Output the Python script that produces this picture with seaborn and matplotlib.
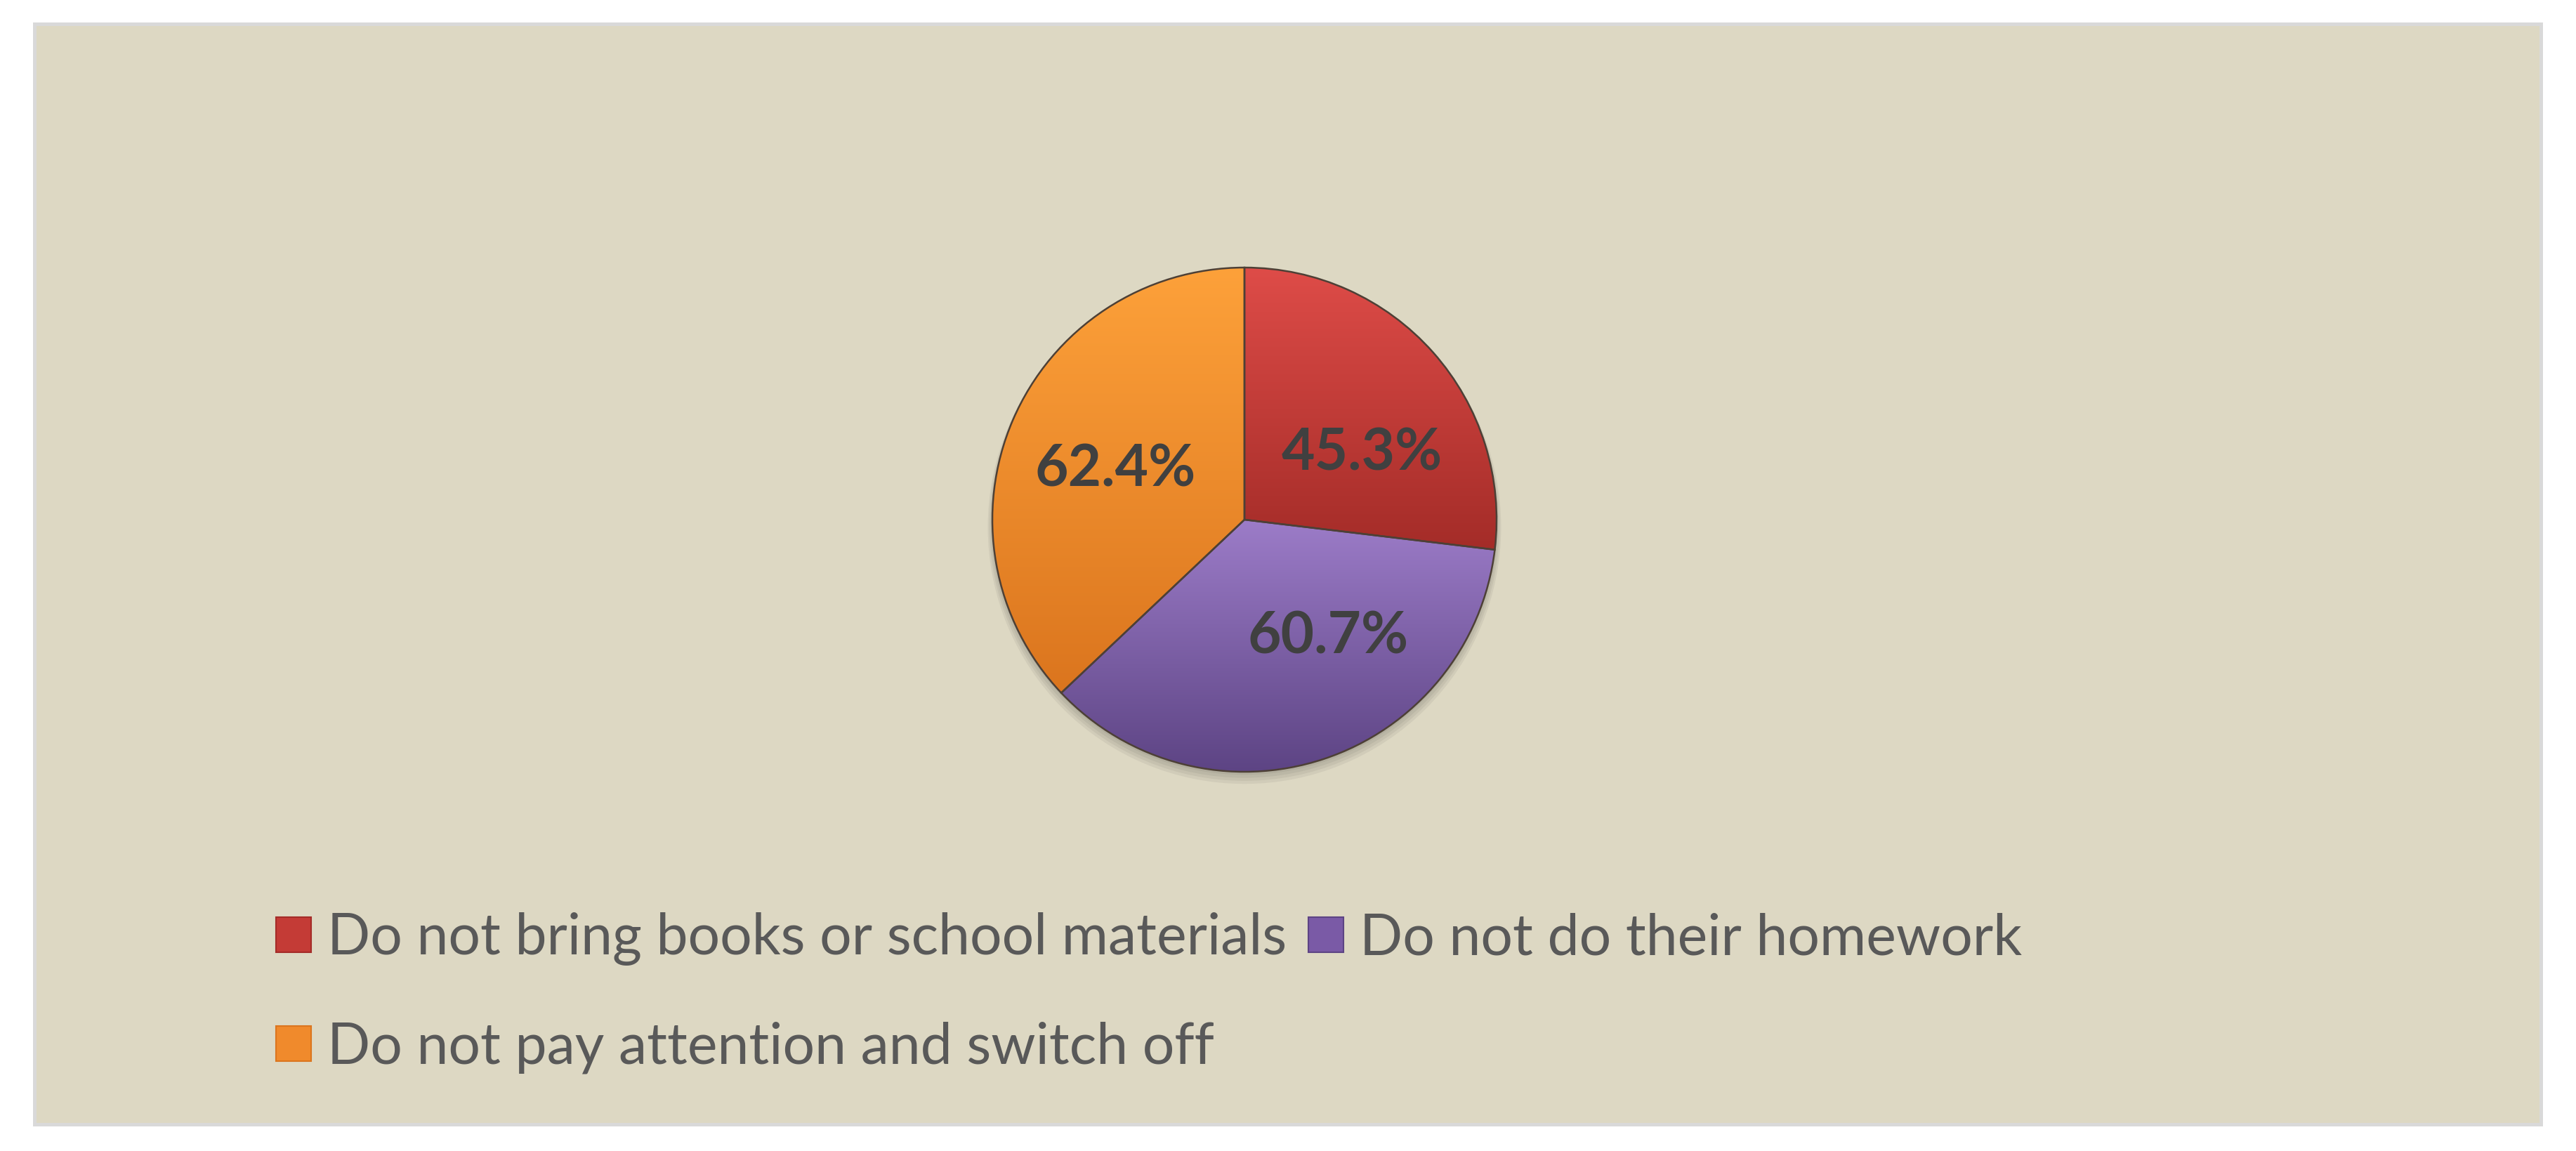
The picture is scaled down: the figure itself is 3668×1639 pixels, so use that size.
import numpy as np
import matplotlib
matplotlib.use("Agg")
import matplotlib.pyplot as plt
import seaborn as sns
from matplotlib.colors import LinearSegmentedColormap
from matplotlib.patches import Rectangle, Patch, Circle

# ---------------- data ----------------
categories = ["Do not bring books or school materials",
              "Do not do their homework",
              "Do not pay attention and switch off"]
values = [45.3, 60.7, 62.4]

# ---------------- style ----------------
slice_colors = ["#C43B36", "#7A5AA6", "#F08A2C"]
light_colors = ["#DE4C48", "#9C7CC8", "#FDA13A"]
dark_colors = ["#A42C28", "#5D4484", "#DB751E"]
label_pos = [(0.534, 29.4), (0.572, -54.6), (0.549, 158.9)]  # (radius frac, angle deg)

sns.set_theme(style="white")
plt.rcParams["font.family"] = ["Lato", "DejaVu Sans"]

W, H, DPI = 3668, 1639, 100
fig = plt.figure(figsize=(W / DPI, H / DPI), dpi=DPI)
fig.patch.set_facecolor("white")
PT = 72 / DPI  # points per pixel

# background panel
fig.add_artist(Rectangle((48.5 / W, 1 - 1601 / H), (3618 - 48.5) / W, (1601 - 33.5) / H,
                         transform=fig.transFigure, facecolor="#DDD8C3",
                         edgecolor="#D9D9D9", linewidth=5 * PT, zorder=0))

renderer = fig.canvas.get_renderer()


def fit_size(text, target_px, **kw):
    t = fig.text(0, 0, text, fontsize=40, **kw)
    w = t.get_window_extent(renderer).width
    t.remove()
    return 40 * target_px / w


# ---------------- pie ----------------
cx, cy, R = 1772, 740, 359
ax = fig.add_axes([(cx - R) / W, 1 - (cy + R) / H, 2 * R / W, 2 * R / H])
ax.set_facecolor("none")
total = sum(values)
pct_fs = fit_size("45.3%", 229, fontweight="bold")

wedges, _, autotexts = ax.pie(
    values, colors=slice_colors, startangle=90, counterclock=False, radius=1.0,
    autopct=lambda p: f"{p * total / 100:.1f}%", pctdistance=0.55,
    wedgeprops=dict(edgecolor="#4d4036", linewidth=1.8),
    textprops=dict(color="#404040", fontweight="bold", fontsize=pct_fs))

# soft shadow under pie
for k, a in enumerate([0.05, 0.05, 0.05, 0.05]):
    ax.add_patch(Circle((0, -0.012 - 0.006 * k), 1.0 + 0.006 * k, facecolor="black",
                        alpha=a, edgecolor="none", zorder=0.5, clip_on=False))

# gradient fill for each wedge
grad = np.linspace(0, 1, 256).reshape(-1, 1)
for w, lc, dc in zip(wedges, light_colors, dark_colors):
    ext = w.get_path().get_extents()
    cmap = LinearSegmentedColormap.from_list("g", [dc, lc])
    im = ax.imshow(grad, extent=(ext.x0, ext.x1, ext.y0, ext.y1), origin="lower",
                   cmap=cmap, aspect="auto", zorder=1.2, interpolation="bicubic")
    im.set_clip_path(w)
    w.set_facecolor("none")
    w.set_zorder(2)
    w.set_clip_on(False)

for t, (d, ang) in zip(autotexts, label_pos):
    t.set_position((d * np.cos(np.radians(ang)), d * np.sin(np.radians(ang))))
    t.set_zorder(3)
    t.set_va("center")
    t.set_ha("center")

ax.set_xlim(-1, 1)
ax.set_ylim(-1, 1)
ax.axis("off")

# ---------------- legend ----------------
leg_fs = fit_size(categories[0], 1368)
fs_px = leg_fs * DPI / 72
order = [0, 2, 1]  # column-major fill -> row1: 0,1 ; row2: 2
handles = [Patch(facecolor=slice_colors[i], edgecolor=dark_colors[i], linewidth=1.5)
           for i in order]
labels = [categories[i] for i in order]

hs = 50.0
hl = hs / fs_px
hh = (hs / fs_px - 0.245) / 0.65
params = dict(labelspacing=0.8, columnspacing=0.3)
anchor = [393 / W, 1 - 1290 / H]


def make_legend():
    return fig.legend(handles, labels, ncol=2, loc="upper left",
                      bbox_to_anchor=tuple(anchor), bbox_transform=fig.transFigure,
                      frameon=False, borderpad=0, borderaxespad=0, fontsize=leg_fs,
                      labelcolor="#595959", handlelength=hl, handleheight=hh,
                      handletextpad=23 / fs_px, **params)


leg = make_legend()
for it in range(3):
    fig.canvas.draw()
    hb = [h.get_window_extent(renderer) for h in leg.legend_handles]
    # row spacing (red -> orange), target 155 px
    dy = hb[0].y0 - hb[1].y0
    params["labelspacing"] += (155 - dy) / fs_px
    # column spacing (red -> purple x), target 1470 px
    dx = hb[2].x0 - hb[0].x0
    params["columnspacing"] += (1470 - dx) / fs_px
    # position: red handle at x0=393, top=1306 (from top)
    anchor[0] += (393 - hb[0].x0) / W
    anchor[1] += ((H - 1306) - hb[0].y1) / H
    leg.remove()
    leg = make_legend()

fig.savefig("out.png", dpi=DPI, facecolor="white")
